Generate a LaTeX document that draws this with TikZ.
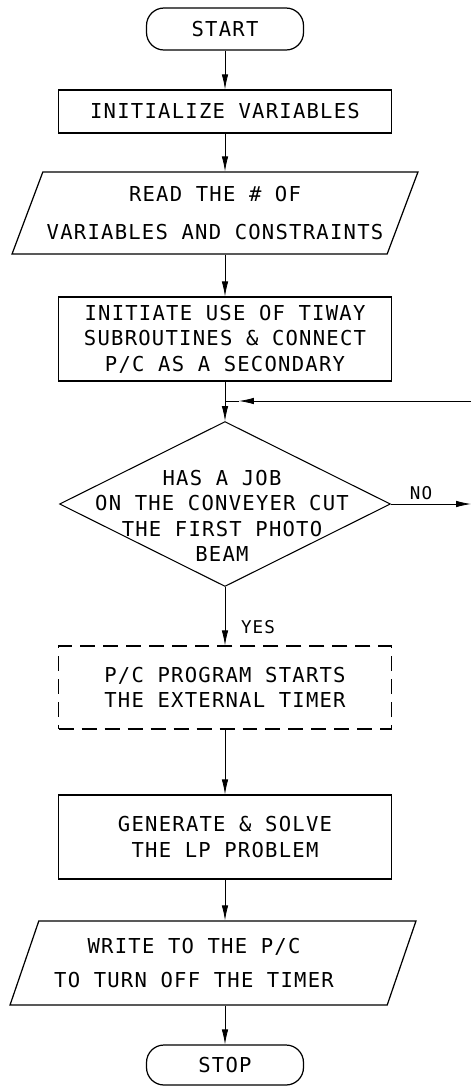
\documentclass[tikz,border=0pt]{standalone}
\usepackage{fontspec}
\setmonofont[LetterSpace=6.0]{DejaVu Sans Mono}
\usetikzlibrary{arrows.meta,shapes.geometric}

\begin{document}
\begin{tikzpicture}[x=0.02cm,y=-0.02cm,
every node/.style={font=\ttfamily\fontsize{11.7}{14.5}\selectfont,align=center,inner sep=0pt},
term/.style={rectangle,draw,line width=0.7pt,rounded corners=0.35cm,minimum width=3.14cm,minimum height=#1},
proc/.style={rectangle,draw,line width=0.7pt,minimum width=6.66cm,minimum height=#1},
io/.style={trapezium,trapezium left angle=60,trapezium right angle=120,trapezium stretches body,draw,line width=0.7pt,minimum width=8.12cm,minimum height=#1},
flow/.style={-{Latex[length=0.3cm,width=0.13cm]},line width=0.45pt},
lbl/.style={font=\ttfamily\fontsize{10}{12}\selectfont}]
\useasboundingbox (0,0) rectangle (471,1086);
\node[term=0.84cm] (start) at (225,29) {START};
\node[proc=0.86cm] (init) at (225,111.5) {INITIALIZE VARIABLES};
\node[io=1.64cm] (read) at (215,213) {READ THE \# OF\\[7pt] VARIABLES AND CONSTRAINTS};
\node[proc=1.68cm] (tiway) at (225,339) {INITIATE USE OF TIWAY\\ SUBROUTINES \& CONNECT\\ P/C AS A SECONDARY};
\coordinate (merge) at (225,401);
\coordinate (back) at (471,401);
\node[diamond,draw,line width=0.6pt,minimum width=6.62cm,minimum height=3.3cm] (beam) at (225,504) {};
\node (beamtxt) at (222,516) {HAS A JOB\\ ON THE CONVEYER CUT\\ THE FIRST PHOTO\\ BEAM};
\coordinate (noexit) at (471,504);
\node[lbl] (no) at (421,493) {NO};
\node[lbl] (yes) at (258,627) {YES};
\node[proc=1.66cm,dash pattern=on 0.3cm off 0.16cm] (timer) at (225,687.5) {P/C PROGRAM STARTS\\ THE EXTERNAL TIMER};
\node[proc=1.68cm] (lp) at (225,837) {GENERATE \& SOLVE\\ THE LP PROBLEM};
\node[io=1.68cm] (write) at (213,963) {WRITE TO THE P/C\hspace*{0.76cm}\\[5pt] TO TURN OFF THE TIMER\hspace*{0.76cm}};
\node[term=0.8cm] (stop) at (225,1065) {STOP};
\foreach \a/\b in {start/init,init/read,read/tiway,beam/timer,timer/lp,lp/write,write/stop} {
   \draw[flow] (\a.south -| start) -- (\b.north -| start);
}
\draw[line width=0.45pt] (tiway.south) -- (merge);
\draw[flow] (back) -- ([xshift=0.28cm]merge);
\draw[line width=0.45pt] ([xshift=0.28cm]merge) -- (merge);
\draw[flow] (merge) -- (beam.north);
\draw[flow] (beam.east) -- (noexit);
\end{tikzpicture}
\end{document}
